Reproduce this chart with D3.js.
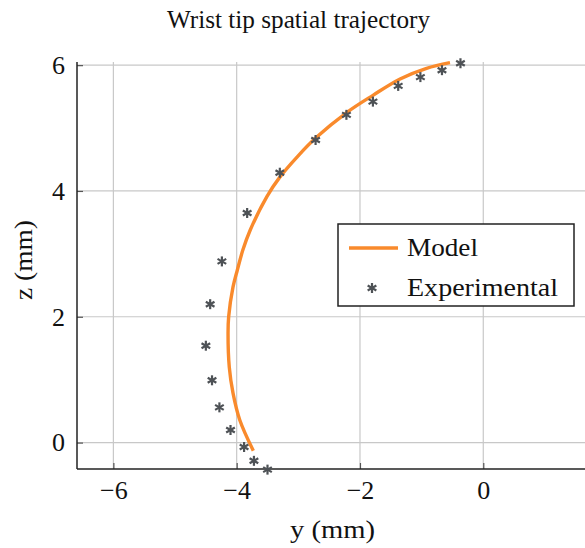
<!DOCTYPE html>
<html>
<head>
<meta charset="utf-8">
<script src="https://cdn.jsdelivr.net/npm/d3@7"></script>
<style>
  body { margin: 0; background: #fff; }
  text { font-family: "Liberation Serif", "DejaVu Serif", serif; fill: #111; }
</style>
</head>
<body>
<svg id="canvas"></svg>
<script>
// model curve (y, z) in mm
let modelY = [-3.73, -3.95, -4.06, -4.12, -4.14, -4.13, -4.06, -3.99, -3.90, -3.78, -3.51, -3.30, -3.01, -2.72, -2.21, -1.79, -1.35, -0.92, -0.54];
let modelZ = [-0.13, 0.36, 0.79, 1.20, 1.74, 2.00, 2.47, 2.74, 3.06, 3.38, 3.91, 4.22, 4.55, 4.84, 5.25, 5.52, 5.78, 5.95, 6.04];

// experimental points
let expY = [-3.50, -3.72, -3.88, -4.10, -4.28, -4.40, -4.50, -4.43, -4.24, -3.83, -3.30, -2.72, -2.22, -1.79, -1.38, -1.02, -0.67, -0.37];
let expZ = [-0.43, -0.29, -0.07, 0.20, 0.56, 0.99, 1.54, 2.20, 2.88, 3.65, 4.29, 4.81, 5.21, 5.42, 5.67, 5.81, 5.92, 6.03];

let xTicks = [-6, -4, -2, 0];
let yTicks = [0, 2, 4, 6];

let width = 585;
let height = 548;
let plotLeft = 77, plotRight = 585, plotTop = 62, plotBottom = 469;

let canvas = d3.select("#canvas")
               .attr('width', width)
               .attr('height', height);

let xScale = d3.scaleLinear().domain([-6.59, 1.65]).range([plotLeft, plotRight]);
let yScale = d3.scaleLinear().domain([-0.42, 6.05]).range([plotBottom, plotTop]);

// grid
canvas.append('g')
      .selectAll('line')
      .data(xTicks)
      .enter()
      .append('line')
      .attr('x1', (d) => xScale(d)).attr('x2', (d) => xScale(d))
      .attr('y1', plotTop).attr('y2', plotBottom)
      .attr('stroke', '#c8c8c8').attr('stroke-width', 1.2);

canvas.append('g')
      .selectAll('line')
      .data(yTicks)
      .enter()
      .append('line')
      .attr('x1', plotLeft).attr('x2', plotRight)
      .attr('y1', (d) => yScale(d)).attr('y2', (d) => yScale(d))
      .attr('stroke', '#c8c8c8').attr('stroke-width', 1.2);

// axes
let xAxis = d3.axisBottom(xScale).tickValues(xTicks).tickSize(-6).tickPadding(12)
              .tickFormat((d) => d < 0 ? '\u2212' + Math.abs(d) : d);
let yAxis = d3.axisLeft(yScale).tickValues(yTicks).tickSize(-6).tickPadding(12)
              .tickFormat(d3.format('d'));

let gx = canvas.append('g')
               .attr('transform', 'translate(0, ' + plotBottom + ')')
               .call(xAxis);
let gy = canvas.append('g')
               .attr('transform', 'translate(' + plotLeft + ', 0)')
               .call(yAxis);

[gx, gy].forEach((g) => {
    g.select('.domain').remove();
    g.selectAll('.tick line').attr('stroke', '#555').attr('stroke-width', 1.2);
    g.selectAll('.tick text').style('font-size', '26px').style('font-family', '"Liberation Serif", serif').attr('fill', '#111');
});

canvas.append('line')
      .attr('x1', plotLeft).attr('x2', plotLeft).attr('y1', plotTop).attr('y2', plotBottom)
      .attr('stroke', '#222').attr('stroke-width', 1.5);
canvas.append('line')
      .attr('x1', plotLeft).attr('x2', plotRight).attr('y1', plotBottom).attr('y2', plotBottom)
      .attr('stroke', '#222').attr('stroke-width', 1.5);

// model curve
let modelData = modelY.map((y, i) => ({ y: y, z: modelZ[i] }));
let line = d3.line()
             .x((d) => xScale(d.y))
             .y((d) => yScale(d.z))
             .curve(d3.curveCatmullRom.alpha(0.5));

canvas.append('path')
      .datum(modelData)
      .attr('d', line)
      .attr('fill', 'none')
      .attr('stroke', '#f98a2c')
      .attr('stroke-width', 3.4);

// asterisk marker
let star = (g, r) => {
    [0, 60, 120].forEach((a) => {
        let rad = (a + 90) * Math.PI / 180;
        g.append('line')
         .attr('x1', -r * Math.cos(rad)).attr('y1', -r * Math.sin(rad))
         .attr('x2', r * Math.cos(rad)).attr('y2', r * Math.sin(rad))
         .attr('stroke', '#4e5256').attr('stroke-width', 2.2);
    });
};

let expData = expY.map((y, i) => ({ y: y, z: expZ[i] }));
canvas.append('g')
      .selectAll('g')
      .data(expData)
      .enter()
      .append('g')
      .attr('transform', (d) => 'translate(' + xScale(d.y) + ',' + yScale(d.z) + ')')
      .each(function () { star(d3.select(this), 5); });

// legend
let legend = canvas.append('g');
legend.append('rect')
      .attr('x', 338).attr('y', 224).attr('width', 236).attr('height', 82)
      .attr('fill', '#fff').attr('stroke', '#222').attr('stroke-width', 1.5);
legend.append('line')
      .attr('x1', 349).attr('x2', 398).attr('y1', 248).attr('y2', 248)
      .attr('stroke', '#f98a2c').attr('stroke-width', 3.4);
legend.append('text').attr('x', 407).attr('y', 256).style('font-size', '25px')
      .attr('textLength', 71).attr('lengthAdjust', 'spacingAndGlyphs').text('Model');
let ls = legend.append('g').attr('transform', 'translate(372, 288)');
star(ls, 5);
legend.append('text').attr('x', 407).attr('y', 296).style('font-size', '25px')
      .attr('textLength', 151).attr('lengthAdjust', 'spacingAndGlyphs').text('Experimental');

// titles
canvas.append('text')
      .attr('x', 167).attr('y', 28)
      .style('font-size', '25px')
      .attr('textLength', 263).attr('lengthAdjust', 'spacingAndGlyphs')
      .text('Wrist tip spatial trajectory');

canvas.append('text')
      .attr('x', 290).attr('y', 538)
      .style('font-size', '25px')
      .attr('textLength', 85).attr('lengthAdjust', 'spacingAndGlyphs')
      .text('y (mm)');

canvas.append('text')
      .attr('transform', 'translate(32, 300) rotate(-90)')
      .style('font-size', '25px')
      .attr('textLength', 80).attr('lengthAdjust', 'spacingAndGlyphs')
      .text('z (mm)');
</script>
</body>
</html>
